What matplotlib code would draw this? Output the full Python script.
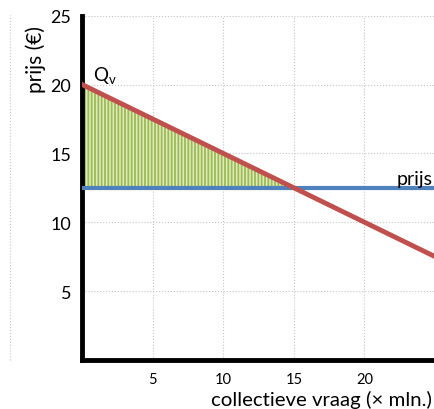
import matplotlib
matplotlib.use('Agg')
from matplotlib import pyplot as plt
from matplotlib.lines import Line2D

plt.rcParams['font.family'] = ['Lato', 'DejaVu Sans']
plt.rcParams['hatch.linewidth'] = 1.3

# demand line (Qv) and market price
vraag_x = [0, 25]
vraag_y = [20, 7.5]
prijs_x = [0, 25]
prijs_y = [12.5, 12.5]
# consumer surplus region
surplus_x = [0, 15]
surplus_top = [20, 12.5]
surplus_bottom = [12.5, 12.5]

x_ticks = [5, 10, 15, 20]
y_ticks = [5, 10, 15, 20, 25]

fig = plt.figure(figsize=(4.35, 4.1), dpi=100)
ax = fig.add_axes([0.189, 0.12, 0.811, 0.839])

ax.fill_between(surplus_x, surplus_bottom, surplus_top, facecolor='#e2ecbb',
                edgecolor='#9bbb59', hatch='|||||', linewidth=0, zorder=1)
ax.plot(prijs_x, prijs_y, color='#4f81bd', linewidth=3, zorder=3)
ax.plot(vraag_x, vraag_y, color='#c0504d', linewidth=3.5, zorder=4)

ax.text(0.75, 20.3, r'Q$_\mathregular{v}$', fontsize=13.5, va='baseline')
ax.text(24.8, 12.8, 'prijs', fontsize=14, ha='right', va='baseline')

ax.set_xlim(0, 25)
ax.set_ylim(0, 25)
ax.set_xticks(x_ticks)
ax.set_yticks(y_ticks)
ax.tick_params(axis='x', labelsize=10.5, length=0, pad=9)
ax.tick_params(axis='y', labelsize=13, length=0, pad=8)

ax.grid(True, linestyle=':', color='#c4c4c4', linewidth=0.8)
ax.set_axisbelow(True)
for s in ['top', 'right']:
    ax.spines[s].set_visible(False)
for s in ['left', 'bottom']:
    ax.spines[s].set_linewidth(3.5)
    ax.spines[s].set_color('black')

fig.text(0.082, 0.855, 'prijs (€)', rotation=90, fontsize=15, ha='center', va='center')
fig.text(0.74, 0.025, 'collectieve vraag (× mln.)', fontsize=14.7, ha='center', va='center')

# dotted border of the chart area on the left
fig.add_artist(Line2D([0.023, 0.023], [0.12, 0.96], transform=fig.transFigure,
                      linestyle=':', color='#c4c4c4', linewidth=0.8))

fig.savefig('out.png', dpi=100)
